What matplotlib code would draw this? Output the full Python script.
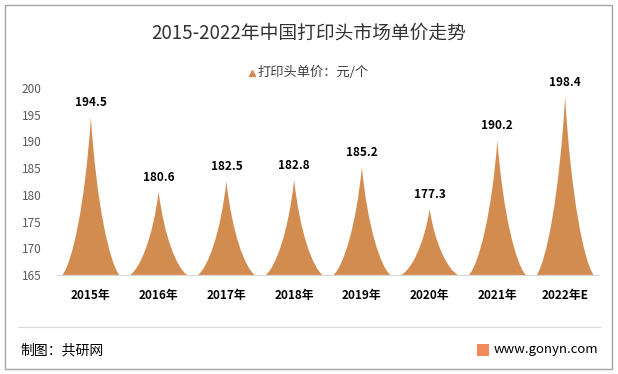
import matplotlib.pyplot as plt
from matplotlib.path import Path
from matplotlib.patches import PathPatch, Rectangle
from matplotlib.lines import Line2D

plt.rcParams['font.family'] = ['Noto Sans CJK SC', 'DejaVu Sans']

years = ["2015年", "2016年", "2017年", "2018年", "2019年", "2020年", "2021年", "2022年E"]
prices = [194.5, 180.6, 182.5, 182.8, 185.2, 177.3, 190.2, 198.4]
yticks = [165, 170, 175, 180, 185, 190, 195, 200]

color = '#D38C50'
W, H = 618, 374
fig = plt.figure(figsize=(W / 100, H / 100), dpi=100)

def fx(px):
    return px / W

def fy(py):
    return 1 - py / H

ax = fig.add_axes([fx(57), fy(275), fx(599) - fx(57), fy(88) - fy(275)])
ax.set_xlim(-0.5, len(years) - 0.5)
ax.set_ylim(165, 200)

base = 165
hw = 0.42
for i, v in enumerate(prices):
    h = v - base
    verts = [
        (i - hw, base),
        (i - hw * 0.65, base + 0.08 * h), (i - hw * 0.2, base + 0.45 * h), (i, v),
        (i + hw * 0.2, base + 0.45 * h), (i + hw * 0.65, base + 0.08 * h), (i + hw, base),
        (i - hw, base),
    ]
    codes = [Path.MOVETO] + [Path.CURVE4] * 6 + [Path.CLOSEPOLY]
    ax.add_patch(PathPatch(Path(verts, codes), facecolor=color, edgecolor='none'))
    ax.text(i, v + 1.5, f"{v}", ha='center', va='bottom', fontsize=8.5,
            fontweight='bold', color='black')

for s in ['top', 'right', 'left']:
    ax.spines[s].set_visible(False)
ax.spines['bottom'].set_color('#D9D9D9')
ax.set_yticks(yticks)
ax.set_yticklabels([str(t) for t in yticks], fontsize=8.5, color='#595959')
ax.tick_params(axis='y', length=0, pad=11)
ax.set_xticks(range(len(years)))
ax.set_xticklabels(years, fontsize=8.5, fontweight='bold', color='black')
ax.tick_params(axis='x', length=0, pad=10)

# title and legend
fig.text(0.5, fy(33), "2015-2022年中国打印头市场单价走势", ha='center', va='center',
         fontsize=13.5, color='#333333')
fig.add_artist(Line2D([fx(252)], [fy(73)], marker='^', markersize=5, color=color,
                      linestyle='none', transform=fig.transFigure))
fig.text(fx(258), fy(72), "打印头单价：元/个", ha='left', va='center', fontsize=9.5,
         color='#404040')

# footer
fig.add_artist(Line2D([fx(18), fx(600)], [fy(327), fy(327)], color='#D9D9D9',
                      linewidth=0.8, transform=fig.transFigure))
fig.text(fx(20), fy(350), "制图：共研网", ha='left', va='center', fontsize=10, color='black')
fig.add_artist(Rectangle((fx(477), fy(356)), fx(12), fy(344) - fy(356), facecolor='#F08A5D',
                         edgecolor='none', transform=fig.transFigure))
fig.text(fx(494), fy(350), "www.gonyn.com", ha='left', va='center', fontsize=9.5, color='black')

# outer border
fig.add_artist(Rectangle((fx(5), fy(369)), fx(612) - fx(5), fy(5) - fy(369), fill=False,
                         edgecolor='#A6A6A6', linewidth=1, transform=fig.transFigure))

fig.savefig('out.png', dpi=100)
